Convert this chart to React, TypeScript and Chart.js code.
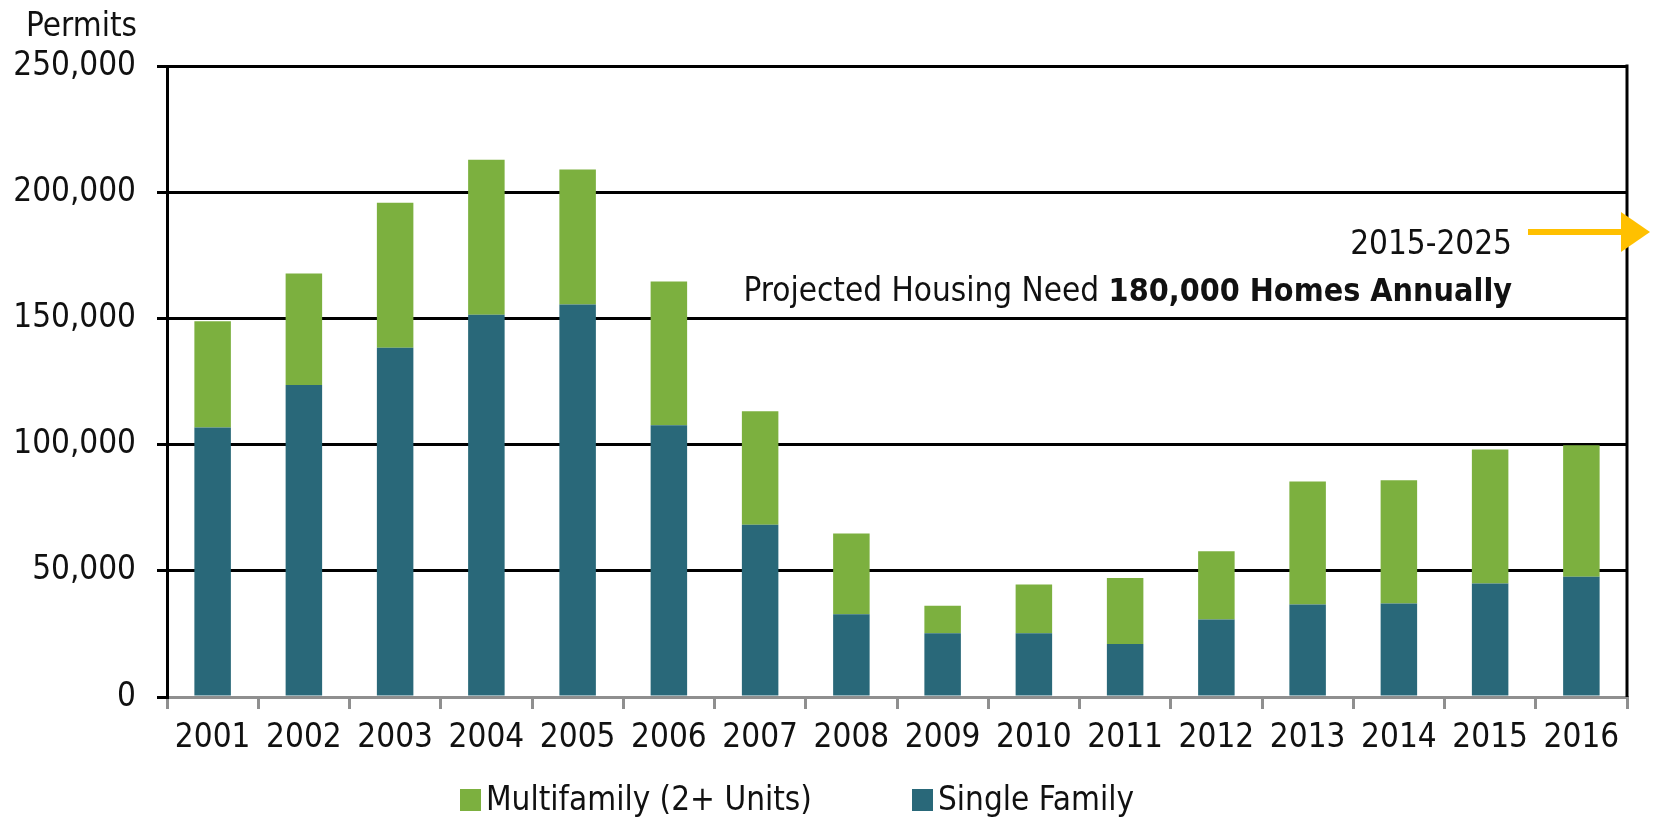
import React, { useEffect, useRef } from "react";
import { Chart, registerables } from "chart.js";

Chart.register(...registerables);

const years = ["2001","2002","2003","2004","2005","2006","2007","2008","2009","2010","2011","2012","2013","2014","2015","2016"];
const singleFamily = [106800,123600,138400,151400,155500,107700,68200,32800,25300,25300,21000,30700,36600,37000,45000,47600];
const multifamily = [42100,44200,57400,61500,53500,56900,45000,32000,10900,19300,26100,27000,48800,48900,53100,52100];
const yTicks = [0,50000,100000,150000,200000,250000];
const legendLabels = ["Multifamily (2+ Units)", "Single Family"];
const annotationYears = "2015-2025";
const annotationLead = "Projected Housing Need ";
const annotationBold = "180,000 Homes Annually";

const GREEN = "#7CB03F";
const BLUE = "#296879";
const ORANGE = "#FFC000";
const FONT = '"DejaVu Sans Condensed", "Liberation Sans", sans-serif';
const FS = 33;

const overlay = {
  id: "overlay",
  afterDraw(chart: any) {
    const { ctx, chartArea } = chart;
    const { left, right, top, bottom } = chartArea;
    ctx.save();
    // right border
    ctx.strokeStyle = "#000";
    ctx.lineWidth = 3;
    ctx.beginPath();
    ctx.moveTo(right, top - 1.5);
    ctx.lineTo(right, bottom);
    ctx.stroke();

    ctx.fillStyle = "#111";
    ctx.textBaseline = "alphabetic";
    // y title
    ctx.font = `${FS}px ${FONT}`;
    ctx.textAlign = "right";
    ctx.fillText("Permits", left - 30, 36);

    // annotation
    const ax = right - 115;
    ctx.font = `${FS}px ${FONT}`;
    ctx.fillText(annotationYears, ax, 254);
    ctx.font = `bold 32px ${FONT}`;
    const bw = ctx.measureText(annotationBold).width;
    ctx.fillText(annotationBold, ax, 301);
    ctx.font = `${FS}px ${FONT}`;
    ctx.fillText(annotationLead, ax - bw, 301);

    // arrow
    ctx.fillStyle = ORANGE;
    const ay = 232;
    ctx.fillRect(right - 99, ay - 3, 96, 6);
    ctx.beginPath();
    ctx.moveTo(right - 6, ay - 20);
    ctx.lineTo(right + 23, ay);
    ctx.lineTo(right - 6, ay + 20);
    ctx.closePath();
    ctx.fill();

    // legend
    const ly = 810;
    ctx.font = `${FS}px ${FONT}`;
    ctx.textAlign = "left";
    const items = [
      { label: legendLabels[0], color: GREEN, x: left + 293 },
      { label: legendLabels[1], color: BLUE, x: left + 745 },
    ];
    for (const it of items) {
      ctx.fillStyle = it.color;
      ctx.fillRect(it.x, ly - 21, 21, 22);
      ctx.fillStyle = "#111";
      ctx.fillText(it.label, it.x + 26, ly);
    }
    ctx.restore();
  },
};

export default function App() {
  const ref = useRef<HTMLCanvasElement | null>(null);
  useEffect(() => {
    if (!ref.current) return;
    const chart = new Chart(ref.current, {
      type: "bar",
      data: {
        labels: years,
        datasets: [
          { label: legendLabels[1], data: singleFamily, backgroundColor: BLUE, barPercentage: 0.4, categoryPercentage: 1.0 },
          { label: legendLabels[0], data: multifamily, backgroundColor: GREEN, barPercentage: 0.4, categoryPercentage: 1.0 },
        ],
      },
      options: {
        responsive: false,
        animation: false,
        layout: { padding: { top: 66, left: 0, right: 40, bottom: 64 } },
        plugins: { legend: { display: false }, tooltip: { enabled: false }, title: { display: false } },
        scales: {
          x: {
            stacked: true,
            grid: { offset: true, drawOnChartArea: false, color: "#8f8f8f", lineWidth: 3, tickLength: 12 },
            border: { color: "#8f8f8f", width: 3 },
            ticks: { color: "#111", font: { family: FONT, size: FS }, padding: 10, maxRotation: 0, autoSkip: false },
            afterFit: (s: any) => { s.height = 61; },
          },
          y: {
            stacked: true,
            min: 0,
            max: 250000,
            afterBuildTicks: (s: any) => { s.ticks = yTicks.map((v) => ({ value: v })); },
            grid: {
              color: (c: any) => (c.tick && c.tick.value === 0 ? "rgba(0,0,0,0)" : "#000"),
              tickColor: "#000",
              lineWidth: 3,
              tickLength: 10,
            },
            border: { color: "#000", width: 3 },
            ticks: {
              color: "#111",
              font: { family: FONT, size: FS },
              padding: 21,
              callback: (v: any) => Number(v).toLocaleString("en-US"),
            },
            afterFit: (s: any) => { s.width = 167; },
          },
        },
      },
      plugins: [overlay],
    });
    return () => chart.destroy();
  }, []);
  return (
    <div style={{ position: "absolute", left: 0, top: 0, width: 1667, height: 822, background: "#fff" }}>
      <canvas ref={ref} width={1667} height={822} />
    </div>
  );
}
